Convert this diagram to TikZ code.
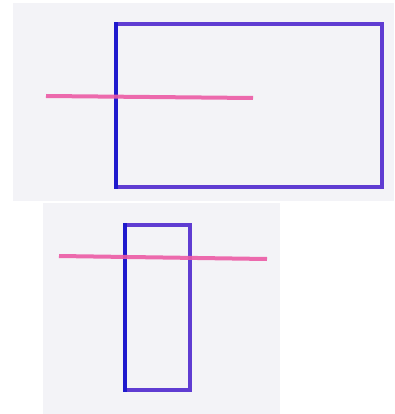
\documentclass[tikz,border=0pt]{standalone}
\definecolor{panelbg}{RGB}{243,243,247}
\definecolor{rectblue}{RGB}{30,25,205}
\definecolor{rectpurple}{RGB}{95,60,210}
\definecolor{pinkline}{RGB}{236,90,165}
\tikzset{
  panel/.style={fill=panelbg, draw=none},
  boxedge/.style={draw=rectpurple, line width=4pt, line cap=rect},
  boxleft/.style={draw=rectblue, line width=4.5pt, line cap=rect},
  pinkstroke/.style={draw=pinkline, line width=4pt, opacity=0.9}
}
\begin{document}
\begin{tikzpicture}[x=1pt,y=-1pt]
\useasboundingbox (0,0) rectangle (394,414);
\fill[white] (0,0) rectangle (394,414);
% panels
\path[panel] (13,3) rectangle (394,201);
\path[panel] (43,203) rectangle (280,414);
% top rectangle
\coordinate (t1) at (116,24);
\coordinate (t2) at (382,24);
\coordinate (t3) at (382,187);
\coordinate (t4) at (116,187);
\draw[boxedge] (t1) -- (t2) -- (t3) -- (t4);
\draw[boxleft] (t4) -- (t1);
\coordinate (pa) at (46,96);
\coordinate (pb) at (253,98);
\draw[pinkstroke] (pa) -- (pb);
% bottom rectangle
\coordinate (b1) at (125,225);
\coordinate (b2) at (190,225);
\coordinate (b3) at (190,390);
\coordinate (b4) at (125,390);
\draw[boxedge] (b1) -- (b2) -- (b3) -- (b4);
\draw[boxleft] (b4) -- (b1);
\coordinate (qa) at (59,256);
\coordinate (qb) at (267,259);
\draw[pinkstroke] (qa) -- (qb);
\end{tikzpicture}
\end{document}
